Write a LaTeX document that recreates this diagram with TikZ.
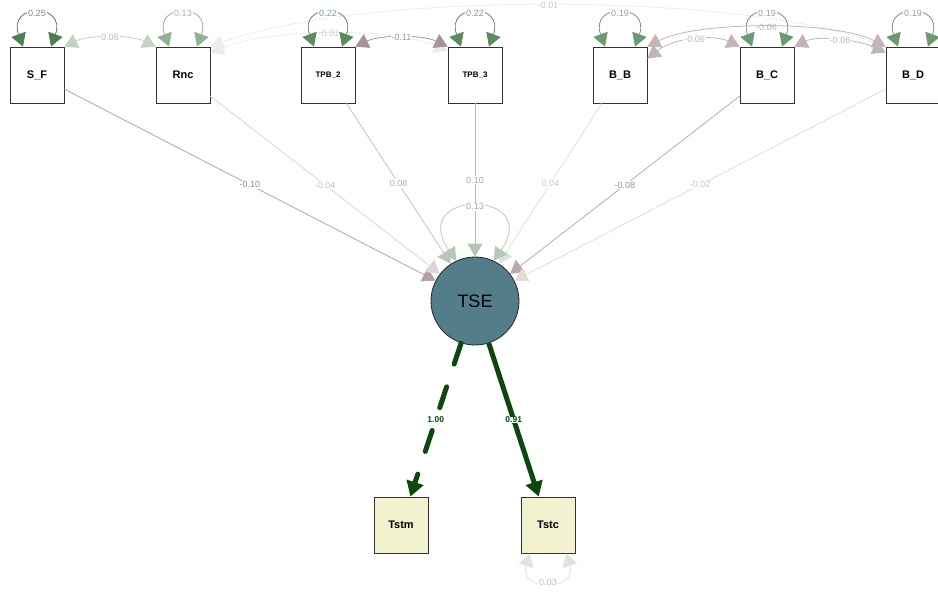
\documentclass[tikz,border=0pt]{standalone}
\usepackage{fontspec}
\setmainfont{Liberation Sans}
\usetikzlibrary{arrows.meta,calc}
\definecolor{tsefill}{HTML}{527D89}
\definecolor{obsfill}{HTML}{F3F2CF}
\definecolor{lA}{HTML}{4F7E52}
\definecolor{lB}{HTML}{5C8B5F}
\definecolor{lC}{HTML}{6C9970}
\definecolor{lD}{HTML}{93B095}
\definecolor{cG}{HTML}{C3D2C3}
\definecolor{cR}{HTML}{A99495}
\definecolor{cS}{HTML}{C2B5B6}
\definecolor{cF}{HTML}{EFEBEB}
\definecolor{rA}{HTML}{B2A2A5}
\definecolor{rB}{HTML}{DCD4D6}
\definecolor{rC}{HTML}{B8C8B8}
\definecolor{rD}{HTML}{B3C4B3}
\definecolor{rE}{HTML}{DAE2DA}
\definecolor{rF}{HTML}{B8A9AC}
\definecolor{rG}{HTML}{E3DCDD}
\definecolor{resc}{HTML}{DDE4DD}
\definecolor{dk}{HTML}{0C480C}
\tikzset{
  bigtri/.tip={Triangle[width=15pt,length=13pt]},
  thicktri/.tip={Triangle[width=17pt,length=15pt]},
  man/.style={draw=black!80, line width=0.8pt, fill=white, minimum width=54pt, minimum height=56pt, inner sep=0pt, font=\bfseries\fontsize{11}{11}\selectfont},
  mansmall/.style={man, font=\bfseries\fontsize{8}{8}\selectfont},
  obs/.style={man, fill=obsfill},
  lat/.style={circle, draw=black!85, line width=0.8pt, fill=tsefill, minimum size=88pt, inner sep=0pt, font=\fontsize{18}{18}\selectfont},
  lbl/.style={fill=white, inner sep=1pt, font=\fontsize{9}{9}\selectfont},
  varloop/.style={{bigtri}-{bigtri}, line width=0.8pt},
  covarc/.style={{bigtri}-{bigtri}, line width=0.8pt},
  reg/.style={-{bigtri}, line width=0.8pt},
  strong/.style={-{thicktri}, line width=5pt, color=dk},
  ldlbl/.style={lbl, text=dk, font=\bfseries\fontsize{8.5}{9}\selectfont},
}
\begin{document}
\begin{tikzpicture}[x=1pt,y=-1pt]
\useasboundingbox (0,0) rectangle (938,592);
% nodes
\node[man] (SF) at (37,75) {S\_F};
\node[man] (Rnc) at (183,75) {Rnc};
\node[mansmall] (TPBb) at (328,75) {TPB\_2};
\node[mansmall] (TPBc) at (475,75) {TPB\_3};
\node[man] (BB) at (620,75) {B\_B};
\node[man] (BC) at (767,75) {B\_C};
\node[man] (BD) at (913,75) {B\_D};
\node[lat] (TSE) at (475,301) {TSE};
\node[obs] (Tstm) at (401,525) {Tstm};
\node[obs] (Tstc) at (548,525) {Tstc};

% faint covariances
\draw[covarc, cF] (Rnc.north east) .. controls +(150,-55) and +(-150,-55) .. (BD.north west)
  node[lbl, midway, text=cF!85!black] {-0.01};
\draw[covarc, cF] ($(Rnc.north east)+(0,6)$) .. controls +(60,-24) and +(-60,-24) .. ($(TPBc.north west)+(0,4)$)
  node[lbl, midway, fill=none, text=cF!85!black] {-0.01};

% variance loops on top boxes
\draw[varloop, lA] ($(SF.north)+(-14,0)$) .. controls +(-16,-44) and +(16,-44) .. ($(SF.north)+(14,0)$)
  node[lbl, midway, text=lA!80!white] {0.25};
\draw[varloop, lD] ($(Rnc.north)+(-14,0)$) .. controls +(-16,-44) and +(16,-44) .. ($(Rnc.north)+(14,0)$)
  node[lbl, midway, text=lD!85!white] {0.13};
\draw[varloop, lB] ($(TPBb.north)+(-14,0)$) .. controls +(-16,-44) and +(16,-44) .. ($(TPBb.north)+(14,0)$)
  node[lbl, midway, text=lB!80!white] {0.22};
\draw[varloop, lB] ($(TPBc.north)+(-14,0)$) .. controls +(-16,-44) and +(16,-44) .. ($(TPBc.north)+(14,0)$)
  node[lbl, midway, text=lB!80!white] {0.22};
\draw[varloop, lC] ($(BB.north)+(-15,0)$) .. controls +(-16,-44) and +(16,-44) .. ($(BB.north)+(15,0)$)
  node[lbl, midway, text=lC!80!white] {0.19};
\draw[varloop, lC] ($(BC.north)+(-15,0)$) .. controls +(-16,-44) and +(16,-44) .. ($(BC.north)+(15,0)$)
  node[lbl, midway, text=lC!80!white] {0.19};
\draw[varloop, lC] ($(BD.north)+(-15,0)$) .. controls +(-16,-44) and +(16,-44) .. ($(BD.north)+(15,0)$)
  node[lbl, midway, text=lC!80!white] {0.19};

% covariances
\draw[covarc, cG] (SF.north east) .. controls +(25,-12) and +(-25,-12) .. (Rnc.north west)
  node[lbl, midway, text=cG!90!black] {0.06};
\draw[covarc, cR] (TPBb.north east) .. controls +(25,-12) and +(-25,-12) .. (TPBc.north west)
  node[lbl, midway, text=cR] {-0.11};
\draw[covarc, cS] ($(BB.north east)+(0,12)$) .. controls +(28,-22) and +(-25,-12) .. (BC.north west)
  node[lbl, midway, text=cS] {-0.06};
\draw[covarc, cS] (BB.north east) .. controls +(50,-26) and +(-50,-26) .. (BD.north west)
  node[lbl, midway, fill=none, text=cS] {-0.06};
\draw[covarc, cS] (BC.north east) .. controls +(25,-12) and +(-25,-12) .. ($(BD.north west)+(0,6)$)
  node[lbl, midway, text=cS] {-0.06};

% regressions
\draw[reg, rA] (SF) -- (TSE) node[lbl, midway, text=rA!85!black] {-0.10};
\draw[reg, rB] (Rnc) -- (TSE) node[lbl, midway, text=rB!90!black] {-0.04};
\draw[reg, rC] (TPBb) -- (TSE) node[lbl, midway, text=rC!90!black] {0.08};
\draw[reg, rD] (TPBc) -- (TSE) node[lbl, midway, text=rD!90!black] {0.10};
\draw[reg, rE] (BB) -- (TSE) node[lbl, midway, text=rE!90!black] {0.04};
\draw[reg, rF] (BC) -- (TSE) node[lbl, midway, text=rF!85!black] {-0.08};
\draw[reg, rG] (BD) -- (TSE) node[lbl, midway, text=rG!90!black] {-0.02};

% TSE variance
\draw[varloop, rC] (TSE.115) .. controls +(-50,-72) and +(50,-72) .. (TSE.65)
  node[lbl, midway, text=rC!85!black] {0.13};

% loadings
\draw[strong, dash pattern=on 22pt off 24pt, line cap=round] (TSE) -- (Tstm)
  node[ldlbl, midway, fill=none] {1.00};
\draw[strong] (TSE) -- (Tstc)
  node[ldlbl, midway, inner sep=0.3pt] {0.91};

% Tstc residual
\draw[varloop, resc] ($(Tstc.south)+(-18,0)$) .. controls +(-12,38) and +(12,38) .. ($(Tstc.south)+(18,0)$)
  node[lbl, midway, text=resc!85!black] {0.03};
\end{tikzpicture}
\end{document}
